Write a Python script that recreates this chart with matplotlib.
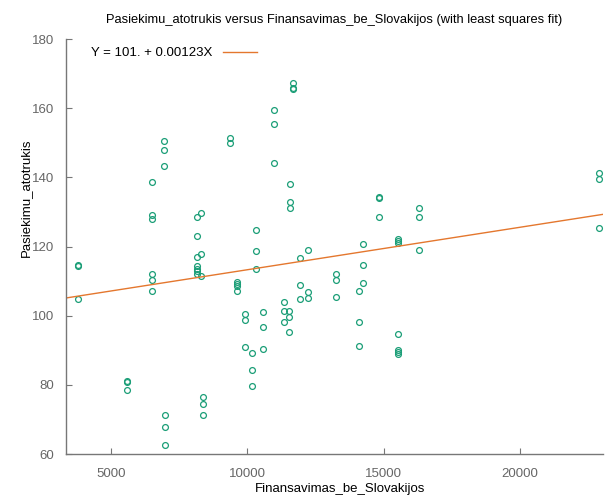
import numpy as np
import matplotlib
matplotlib.use("Agg")
import matplotlib.pyplot as plt

plt.rcParams['font.family'] = ['Liberation Sans', 'DejaVu Sans']

# Finansavimas_be_Slovakijos vs Pasiekimu_atotrukis
finansavimas = [3813, 3813, 3813,
                5586, 5586, 5586,
                6524, 6524, 6524, 6524, 6524, 6524,
                6960, 6960, 6960, 6989, 6989, 6989,
                8161, 8297, 8161, 8161, 8297, 8161, 8161, 8161, 8161, 8297,
                8370, 8370, 8370,
                9381, 9381,
                9626, 9626, 9626, 9626,
                9919, 9919, 9919,
                10165, 10165, 10165,
                10311, 10311, 10311,
                10590, 10590, 10590,
                10993, 10993, 10993,
                11359, 11359, 11359, 11520, 11520, 11520,
                11579, 11579, 11579,
                11689, 11689, 11689,
                11934, 11934, 11934,
                12227, 12238, 12238,
                13242, 13242, 13242,
                14095, 14095, 14095, 14253, 14253, 14253,
                14828, 14828, 14828,
                15513, 15513, 15513, 15513, 15513, 15513, 15513,
                16293, 16293, 16293,
                22886, 22886, 22886]
atotrukis = [114.8, 114.3, 104.9,
             81.2, 80.8, 78.6,
             138.8, 129.0, 128.0, 112.2, 110.3, 107.3,
             150.6, 147.9, 143.4, 71.2, 67.9, 62.7,
             128.5, 129.6, 123.1, 117.0, 118.0, 114.4, 113.6, 112.8, 112.2, 111.6,
             76.4, 74.5, 71.2,
             151.3, 150.0,
             109.9, 109.3, 108.5, 107.3,
             100.6, 98.8, 90.9,
             89.2, 84.3, 79.8,
             124.9, 118.6, 113.4,
             101.2, 96.7, 90.3,
             159.4, 155.4, 144.1,
             103.9, 101.4, 98.3, 101.4, 99.7, 95.2,
             138.0, 132.8, 131.2,
             167.4, 166.0, 165.5,
             116.8, 108.8, 104.8,
             119.1, 106.8, 105.1,
             112.2, 110.3, 105.5,
             107.2, 98.3, 91.2, 120.7, 114.6, 109.4,
             134.4, 134.1, 128.6,
             122.3, 121.7, 121.0, 94.6, 90.1, 89.6, 89.0,
             131.3, 128.5, 119.1,
             141.2, 139.7, 125.5]

# least squares fit
a, b = 101.0, 0.00123

fig = plt.figure(figsize=(6.05, 4.95), dpi=100)
ax = fig.add_axes([0.1084, 0.0828, 0.888, 0.838])

ax.plot(finansavimas, atotrukis, 'o', mfc='none', mec='#1b9e77', ms=4.2, mew=0.9,
        label='_nolegend_')

xmin, xmax = 3348, 23030
xx = np.array([xmin, xmax])
ax.plot(xx, a + b * xx, color='#e4772e', lw=1.0, label='Y = 101. + 0.00123X')

ax.set_xlim(xmin, xmax)
ax.set_ylim(60, 180)
ax.set_xticks([5000, 10000, 15000, 20000])
ax.set_yticks([60, 80, 100, 120, 140, 160, 180])

for s in ['top', 'right']:
    ax.spines[s].set_visible(False)
for s in ['left', 'bottom']:
    ax.spines[s].set_color('#777777')
    ax.spines[s].set_linewidth(1.0)
ax.tick_params(direction='in', length=4, width=0.8, color='#777777',
               labelcolor='#666666', labelsize=9.5, pad=8)
ax.tick_params(axis='x', pad=10)

ax.set_title('Pasiekimu_atotrukis versus Finansavimas_be_Slovakijos (with least squares fit)',
             fontsize=9.3, pad=12)
ax.set_xlabel('Finansavimas_be_Slovakijos', fontsize=9.5)
ax.set_ylabel('Pasiekimu_atotrukis', fontsize=9.5)
ax.yaxis.set_label_coords(-0.063, 0.617)
ax.xaxis.set_label_coords(0.51, -0.07)

ax.legend(loc='upper left', bbox_to_anchor=(0.025, 1.01), frameon=False,
          markerfirst=False, fontsize=9.5, handlelength=2.6, handletextpad=0.8)

plt.savefig('out.png', dpi=100)
